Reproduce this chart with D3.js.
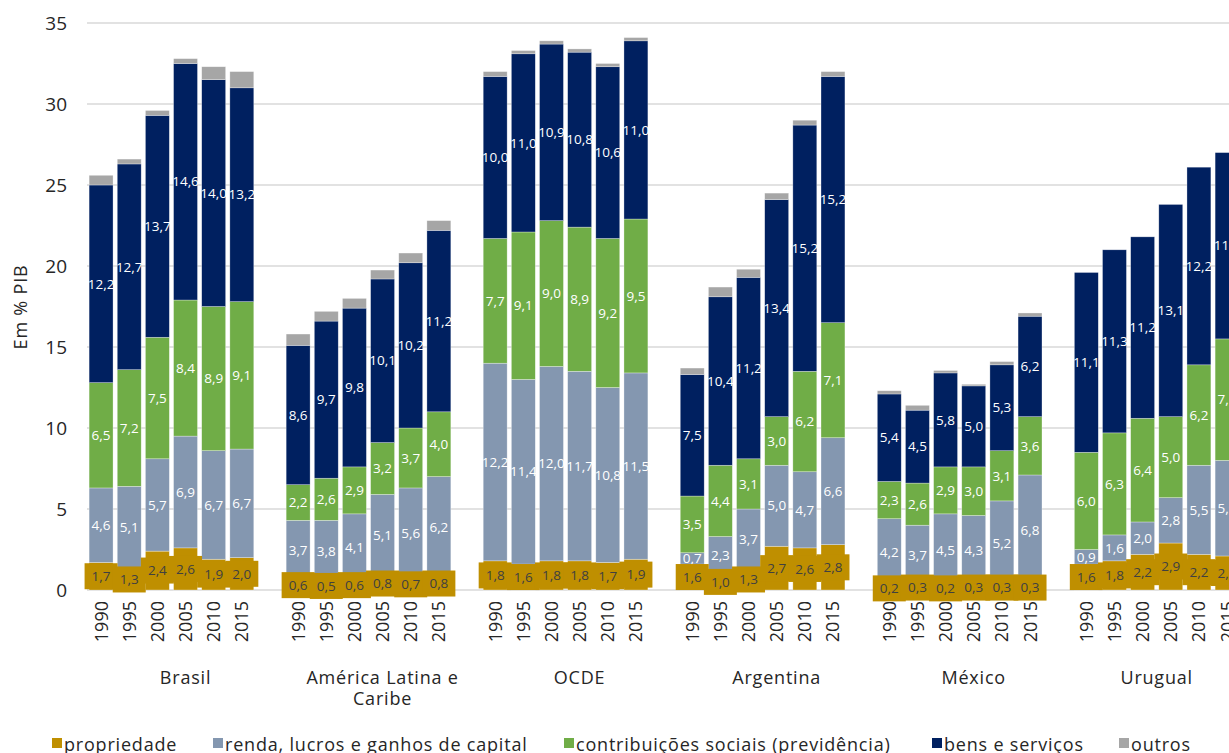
<!DOCTYPE html>
<html><head><meta charset="utf-8">
<script src="https://cdn.jsdelivr.net/npm/d3@7"></script>
<style>
html,body{margin:0;padding:0;background:#fff;overflow:hidden;}
svg{display:block;font-family:"Open Sans","Noto Sans",sans-serif;}
</style></head>
<body>
<svg id="c" width="1229" height="753"></svg>
<script>
const groups = ["Brasil", "América Latina e Caribe", "OCDE", "Argentina", "México", "Urugual"];
const years = ["1990", "1995", "2000", "2005", "2010", "2015"];
const seriesNames = ["propriedade", "renda, lucros e ganhos de capital", "contribuições sociais (previdência)", "bens e serviços", "outros"];
const seriesColors = ["#BF8F00", "#8497B0", "#70AD47", "#002060", "#A6A6A6"];
// values per group, per year
const propriedade = [
  [1.7, 1.3, 2.4, 2.6, 1.9, 2.0],
  [0.6, 0.5, 0.6, 0.8, 0.7, 0.8],
  [1.8, 1.6, 1.8, 1.8, 1.7, 1.9],
  [1.6, 1.0, 1.3, 2.7, 2.6, 2.8],
  [0.2, 0.3, 0.2, 0.3, 0.3, 0.3],
  [1.6, 1.8, 2.2, 2.9, 2.2, 2.1]
];
const renda = [
  [4.6, 5.1, 5.7, 6.9, 6.7, 6.7],
  [3.7, 3.8, 4.1, 5.1, 5.6, 6.2],
  [12.2, 11.4, 12.0, 11.7, 10.8, 11.5],
  [0.7, 2.3, 3.7, 5.0, 4.7, 6.6],
  [4.2, 3.7, 4.5, 4.3, 5.2, 6.8],
  [0.9, 1.6, 2.0, 2.8, 5.5, 5.9]
];
const contribuicoes = [
  [6.5, 7.2, 7.5, 8.4, 8.9, 9.1],
  [2.2, 2.6, 2.9, 3.2, 3.7, 4.0],
  [7.7, 9.1, 9.0, 8.9, 9.2, 9.5],
  [3.5, 4.4, 3.1, 3.0, 6.2, 7.1],
  [2.3, 2.6, 2.9, 3.0, 3.1, 3.6],
  [6.0, 6.3, 6.4, 5.0, 6.2, 7.5]
];
const bens = [
  [12.2, 12.7, 13.7, 14.6, 14.0, 13.2],
  [8.6, 9.7, 9.8, 10.1, 10.2, 11.2],
  [10.0, 11.0, 10.9, 10.8, 10.6, 11.0],
  [7.5, 10.4, 11.2, 13.4, 15.2, 15.2],
  [5.4, 4.5, 5.8, 5.0, 5.3, 6.2],
  [11.1, 11.3, 11.2, 13.1, 12.2, 11.5]
];
const outros = [
  [0.6, 0.3, 0.3, 0.3, 0.8, 1.0],
  [0.7, 0.6, 0.6, 0.55, 0.6, 0.6],
  [0.3, 0.2, 0.2, 0.2, 0.2, 0.2],
  [0.4, 0.6, 0.5, 0.4, 0.3, 0.3],
  [0.2, 0.3, 0.15, 0.1, 0.2, 0.2],
  [0, 0, 0, 0, 0, 0]
];
const yTicks = [0, 5, 10, 15, 20, 25, 30, 35];
const yTitle = "Em % PIB";

const series = [propriedade, renda, contribuicoes, bens, outros];
const slotsPerGroup = 7;
const nSlots = groups.length * slotsPerGroup - 1;

const rows = [];
groups.forEach((g, gi) => years.forEach((yr, yi) => {
  const r = {group: g, gi, year: yr, slot: gi * slotsPerGroup + yi};
  series.forEach((s, si) => r["s" + si] = s[gi][yi]);
  rows.push(r);
}));

const svg = d3.select("#c");
const x0 = 87, stepPx = 28.15;
const x = d3.scaleBand().domain(d3.range(nSlots)).range([x0, x0 + nSlots * stepPx])
  .paddingInner(0.15).paddingOuter(0.075);
const y = d3.scaleLinear().domain([0, 35]).range([590, 23]);
const txt = "#262626";

svg.append("g").selectAll("line").data(yTicks).join("line")
  .attr("x1", x0).attr("x2", x0 + nSlots * stepPx)
  .attr("y1", d => y(d)).attr("y2", d => y(d))
  .attr("stroke", "#d9d9d9").attr("stroke-width", 1.3);

const yAxis = d3.axisLeft(y).tickValues(yTicks).tickSize(0).tickPadding(0).tickFormat(d3.format("d"));
const ya = svg.append("g").attr("transform", "translate(67,0)").call(yAxis);
ya.select(".domain").remove();
ya.selectAll("text").attr("font-size", 19).attr("fill", txt)
  .attr("font-family", "'Open Sans','Noto Sans',sans-serif");

svg.append("text").attr("transform", "translate(27,307) rotate(-90)")
  .attr("text-anchor", "middle").attr("font-size", 18).attr("letter-spacing", 0.8)
  .attr("fill", txt).text(yTitle);

const keys = series.map((s, i) => "s" + i);
const stack = d3.stack().keys(keys)(rows);
const bw = x.bandwidth();
stack.forEach((layer, li) => {
  svg.append("g").selectAll("rect").data(layer).join("rect")
    .attr("x", d => x(d.data.slot))
    .attr("width", bw)
    .attr("y", d => y(d[1]))
    .attr("height", d => Math.max(0, y(d[0]) - y(d[1])))
    .attr("fill", seriesColors[li])
    .attr("stroke", "rgba(255,255,255,0.5)").attr("stroke-width", 0.6);
});

const fmt = v => d3.format(".1f")(v).replace(".", ",");
[1, 2, 3].forEach(li => {
  svg.append("g").selectAll("text").data(stack[li]).join("text")
    .attr("x", d => x(d.data.slot) + bw / 2)
    .attr("y", d => y((d[0] + d[1]) / 2))
    .attr("dy", "0.35em")
    .attr("text-anchor", "middle").attr("font-size", 13.5).attr("fill", "#ffffff")
    .text(d => fmt(d[1] - d[0]));
});
const pg = svg.append("g");
stack[0].forEach(d => {
  const cx = x(d.data.slot) + bw / 2, cy = y((d[0] + d[1]) / 2);
  const g = pg.append("g");
  g.append("rect").attr("x", cx - 16.5).attr("y", cy - 13).attr("width", 33).attr("height", 26)
    .attr("fill", seriesColors[0]);
  g.append("text").attr("x", cx).attr("y", cy).attr("dy", "0.35em")
    .attr("text-anchor", "middle").attr("font-size", 13.5).attr("fill", "#404040")
    .text(fmt(d[1] - d[0]));
});

svg.append("g").selectAll("text").data(rows).join("text")
  .attr("transform", d => `translate(${x(d.slot) + bw / 2},601) rotate(-90)`)
  .attr("text-anchor", "end").attr("dy", "0.36em")
  .attr("font-size", 18).attr("fill", txt).text(d => d.year);

const gl = svg.append("g");
groups.forEach((g, gi) => {
  const s0 = gi * slotsPerGroup;
  const s1 = Math.min(s0 + slotsPerGroup, nSlots);
  const cx = x0 + (s0 + s1) / 2 * stepPx;
  const lines = g === "América Latina e Caribe" ? ["América Latina e", "Caribe"] : [g];
  const t = gl.append("text").attr("text-anchor", "middle").attr("font-size", 18)
    .attr("letter-spacing", 0.8).attr("fill", txt);
  lines.forEach((ln, i) => t.append("tspan").attr("x", cx).attr("y", 684 + i * 21).text(ln));
});

const legX = [52, 213, 564, 932, 1119];
const lg = svg.append("g");
seriesNames.forEach((n, i) => {
  lg.append("rect").attr("x", legX[i]).attr("y", 738).attr("width", 10).attr("height", 10).attr("fill", seriesColors[i]);
  lg.append("text").attr("x", legX[i] + 12).attr("y", 751).attr("font-size", 18)
    .attr("letter-spacing", 0.8).attr("fill", txt).text(n);
});
</script>
</body></html>
